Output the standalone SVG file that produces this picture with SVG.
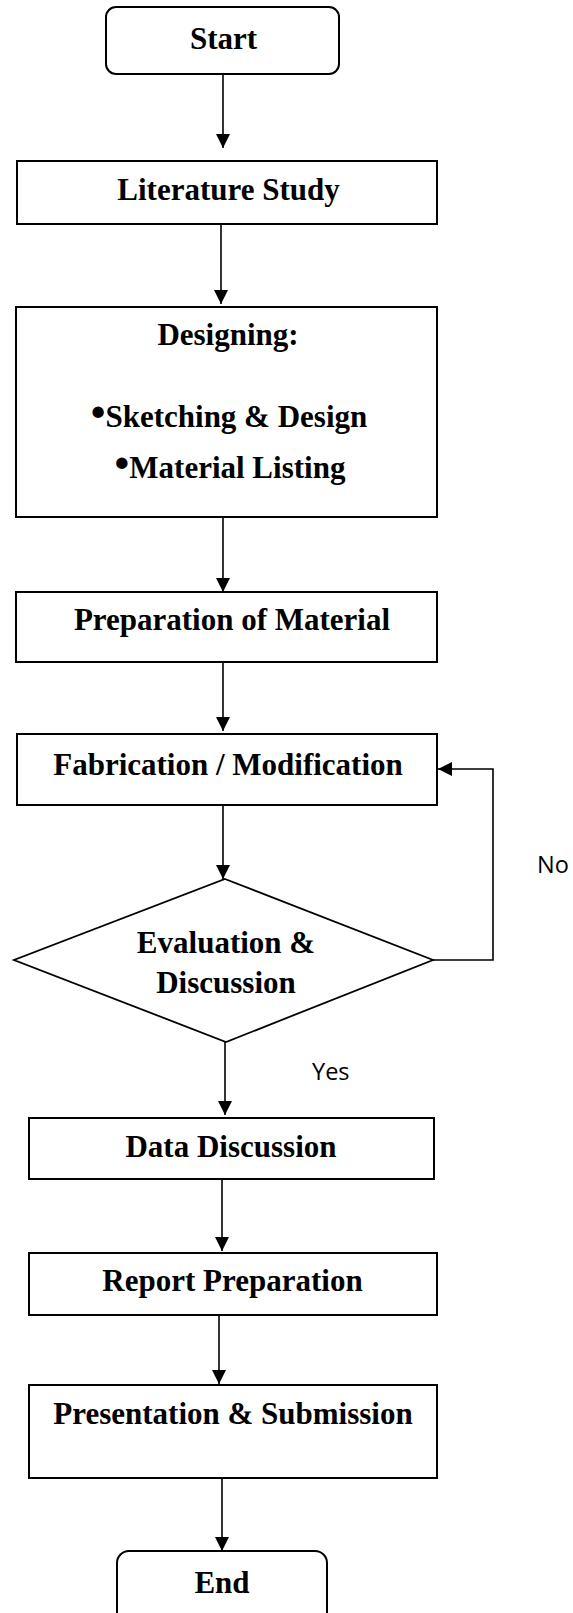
<svg xmlns="http://www.w3.org/2000/svg" width="573" height="1613" viewBox="0 0 573 1613">
<defs>
<style>
.box{fill:#fff;stroke:#000;stroke-width:2}
.dia{fill:#fff;stroke:#000;stroke-width:1.8}
.t{font-family:"Liberation Serif","Times New Roman",serif;font-weight:bold;font-size:31px;fill:#000;text-anchor:middle}
.b{font-size:42px}
.lbl{font-family:"Open Sans","Noto Sans",sans-serif;font-size:23.5px;fill:#000}
.c{fill:none;stroke:#000;stroke-width:1.6;marker-end:url(#ah)}
</style>
<marker id="ah" markerUnits="userSpaceOnUse" markerWidth="14" markerHeight="14" refX="14" refY="7" orient="auto">
<path d="M0,0 L14,7 L0,14 Z" fill="#000"/>
</marker>
</defs>
<rect width="573" height="1613" fill="#fff"/>
<g id="connectors">
<line class="c" x1="223" y1="74" x2="223" y2="148"/>
<line class="c" x1="221" y1="224" x2="221" y2="304"/>
<line class="c" x1="223" y1="517" x2="223" y2="592"/>
<line class="c" x1="223" y1="662" x2="223" y2="731"/>
<line class="c" x1="223" y1="805" x2="223" y2="879"/>
<line class="c" x1="225" y1="1042" x2="225" y2="1115"/>
<line class="c" x1="222" y1="1179" x2="222" y2="1251"/>
<line class="c" x1="219" y1="1315" x2="219" y2="1384"/>
<line class="c" x1="222" y1="1478" x2="222" y2="1551"/>
<polyline class="c" points="433,960 493,960 493,769 438,769"/>
<text class="lbl" x="537" y="873">No</text>
<text class="lbl" x="312" y="1080">Yes</text>
</g>
<g id="start">
<rect class="box" x="106" y="7" width="233" height="67" rx="10"/>
<text class="t" x="223.5" y="49">Start</text>
</g>
<g id="literature">
<rect class="box" x="17" y="161" width="420" height="63"/>
<text class="t" x="228.5" y="200">Literature Study</text>
</g>
<g id="designing">
<rect class="box" x="16" y="307" width="421" height="210"/>
<text class="t" x="228" y="345">Designing:</text>
<text class="t" x="229" y="427"><tspan class="b" dy="-1">•</tspan><tspan dy="1">Sketching &amp; Design</tspan></text>
<text class="t" x="230" y="478"><tspan class="b" dy="-1">•</tspan><tspan dy="1">Material Listing</tspan></text>
</g>
<g id="preparation">
<rect class="box" x="16" y="592" width="421" height="70"/>
<text class="t" x="232" y="630">Preparation of Material</text>
</g>
<g id="fabrication">
<rect class="box" x="17" y="734" width="420" height="71"/>
<text class="t" x="228" y="775">Fabrication / Modification</text>
</g>
<g id="evaluation">
<polygon class="dia" points="225,879 433,960 226,1042 14,960"/>
<text class="t" x="226" y="953">Evaluation &amp;</text>
<text class="t" x="226" y="993">Discussion</text>
</g>
<g id="data">
<rect class="box" x="29" y="1118" width="405" height="61"/>
<text class="t" x="231" y="1157">Data Discussion</text>
</g>
<g id="report">
<rect class="box" x="29" y="1253" width="408" height="62"/>
<text class="t" x="232.5" y="1290.5">Report Preparation</text>
</g>
<g id="presentation">
<rect class="box" x="29" y="1385" width="408" height="93"/>
<text class="t" x="233" y="1423.5">Presentation &amp; Submission</text>
</g>
<g id="end">
<rect class="box" x="117" y="1551" width="210" height="80" rx="12"/>
<text class="t" x="222" y="1593">End</text>
</g>
</svg>
